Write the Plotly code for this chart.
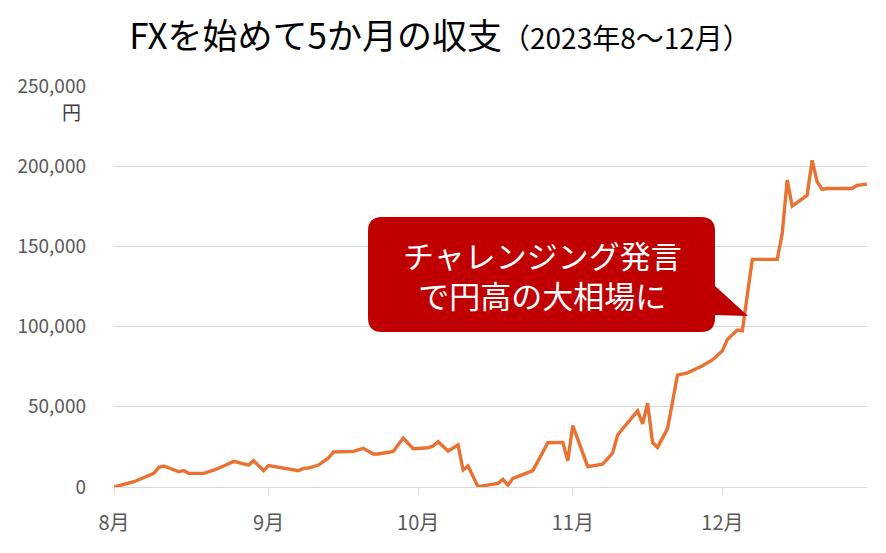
import plotly.graph_objects as go

# daily balance (yen)
dates = [
    "2023-08-01", "2023-08-05", "2023-08-09", "2023-08-10", "2023-08-11",
    "2023-08-14", "2023-08-15", "2023-08-16", "2023-08-19", "2023-08-21",
    "2023-08-23", "2023-08-25", "2023-08-28", "2023-08-29", "2023-08-31",
    "2023-09-01", "2023-09-07", "2023-09-08", "2023-09-09", "2023-09-11",
    "2023-09-13", "2023-09-14", "2023-09-18", "2023-09-19", "2023-09-20",
    "2023-09-22", "2023-09-23", "2023-09-26", "2023-09-27", "2023-09-28",
    "2023-09-30", "2023-10-03", "2023-10-04", "2023-10-05", "2023-10-07",
    "2023-10-09", "2023-10-10", "2023-10-11", "2023-10-13", "2023-10-17",
    "2023-10-18", "2023-10-19", "2023-10-20", "2023-10-24", "2023-10-27",
    "2023-10-30", "2023-10-31", "2023-11-01", "2023-11-04", "2023-11-07",
    "2023-11-09", "2023-11-10", "2023-11-11", "2023-11-14", "2023-11-15",
    "2023-11-16", "2023-11-17", "2023-11-18", "2023-11-20", "2023-11-22",
    "2023-11-24", "2023-11-27", "2023-11-29", "2023-12-01", "2023-12-02",
    "2023-12-04", "2023-12-05", "2023-12-07", "2023-12-12", "2023-12-13",
    "2023-12-14", "2023-12-15", "2023-12-18", "2023-12-19", "2023-12-20",
    "2023-12-21", "2023-12-22", "2023-12-27", "2023-12-28", "2023-12-30",
]
balance = [
    0, 3300, 8500, 12300, 13100,
    9500, 10200, 8500, 8500, 10500,
    13100, 16000, 13700, 16400, 10200,
    13400, 10200, 11600, 11800, 13700,
    18100, 21800, 22200, 23000, 24100,
    20600, 20600, 22200, 26800, 30500,
    23900, 24500, 25500, 28200, 22400,
    26200, 10600, 13100, 200, 2300,
    4800, 1200, 5400, 10200, 27600,
    27800, 16400, 38300, 12700, 14300,
    21200, 32400, 36300, 47500, 39300,
    52300, 27700, 24700, 36400, 69800,
    71200, 75600, 79200, 85000, 92000,
    97800, 97400, 141900, 141900, 158000,
    191300, 175100, 181900, 203700, 190200,
    185500, 186100, 186100, 188100, 188800,
]

month_ticks = ["2023-08-01", "2023-09-01", "2023-10-01", "2023-11-01", "2023-12-01"]
month_labels = ["8月", "9月", "10月", "11月", "12月"]
y_ticks = [0, 50000, 100000, 150000, 200000, 250000]

FONT = "Noto Sans CJK JP"
RED = "#C00000"

W, H = 886, 553
OFF = 8  # page body margin
# plot area in page pixels (used to place the callout)
L, R, T, B = 114, 867, 86, 487


def px(x, y):
    return (x - L) / (R - L), (B - y) / (B - T)


def bubble_path(x0, y0, x1, y1, r):
    rx, ry = r / (R - L), r / (B - T)
    a0, b0 = px(x0, y1)
    a1, b1 = px(x1, y0)
    return (f"M {a0 + rx},{b0} L {a1 - rx},{b0} Q {a1},{b0} {a1},{b0 + ry} "
            f"L {a1},{b1 - ry} Q {a1},{b1} {a1 - rx},{b1} "
            f"L {a0 + rx},{b1} Q {a0},{b1} {a0},{b1 - ry} "
            f"L {a0},{b0 + ry} Q {a0},{b0} {a0 + rx},{b0} Z")


def tri_path(pts):
    p = [px(*q) for q in pts]
    return "M " + " L ".join(f"{a},{b}" for a, b in p) + " Z"


fig = go.Figure()
fig.add_trace(go.Scatter(
    x=dates, y=balance, mode="lines",
    line=dict(color="#E97132", width=3.4),
    cliponaxis=False, hoverinfo="skip",
))

fig.update_layout(
    width=W, height=H,
    margin=dict(l=L - OFF, r=W - R + OFF, t=T - OFF, b=H - B + OFF),
    paper_bgcolor="white", plot_bgcolor="white",
    font=dict(family=FONT, color="#595959"),
    showlegend=False,
    title=dict(
        text="FXを始めて5か月の収支<span style='font-size:28px'>（2023年8〜12月）</span>",
        x=(440 - OFF) / W, xref="container", xanchor="center",
        y=1 - (37 - OFF) / H, yref="container", yanchor="middle",
        font=dict(family=FONT, size=35, color="black"),
    ),
)

fig.update_xaxes(
    type="date", range=["2023-08-01", "2023-12-30"],
    tickvals=month_ticks, ticktext=month_labels,
    ticks="outside", ticklen=7, tickcolor="#d9d9d9",
    showline=True, linecolor="#d9d9d9", linewidth=1,
    showgrid=False, zeroline=False, automargin=False,
    tickfont=dict(size=20, color="#595959"),
    ticklabelstandoff=11,
)
fig.update_yaxes(
    range=[0, 250000], tickvals=y_ticks,
    tickformat=",d",
    showgrid=True, gridcolor="#d9d9d9", gridwidth=1,
    zeroline=False, showline=False, ticks="", automargin=False,
    tickfont=dict(size=19, color="#595959"),
    ticklabelstandoff=27,
)

fig.add_annotation(
    text="円", xref="paper", yref="paper",
    x=px(83, 0)[0], y=px(0, 111)[1], xanchor="right", yanchor="middle",
    showarrow=False, font=dict(family=FONT, size=19, color="#404040"),
)

# callout bubble
fig.add_shape(type="path", xref="paper", yref="paper",
              path=bubble_path(368, 217, 715, 332, 14),
              fillcolor=RED, line=dict(width=0), layer="above")
fig.add_shape(type="path", xref="paper", yref="paper",
              path=tri_path([(714, 285), (748, 316), (714, 315)]),
              fillcolor=RED, line=dict(width=0), layer="above")
cx, cy = px(542, 274)
fig.add_annotation(
    text="チャレンジング発言<br>で円高の大相場に",
    xref="paper", yref="paper", x=cx, y=cy,
    xanchor="center", yanchor="middle", align="center",
    showarrow=False, font=dict(family=FONT, size=31, color="white"),
)

fig.write_html("out.html")
